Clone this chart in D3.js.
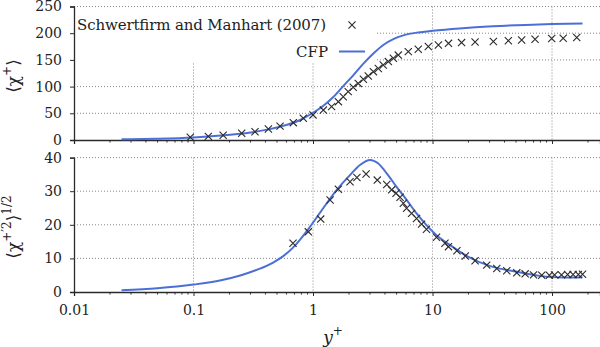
<!DOCTYPE html>
<html><head><meta charset="utf-8">
<script src="https://cdn.jsdelivr.net/npm/d3@7"></script>
<style>body{margin:0;background:#fff}svg{display:block}svg text{font-family:"DejaVu Serif","Liberation Serif",serif;fill:#222}</style>
</head><body><div id="chart"></div>
<script>
// ---- data ----
const xTicks = [0.01, 0.1, 1, 10, 100];
const xTickLabels = ["0.01", "0.1", "1", "10", "100"];
const topYTicks = [0, 50, 100, 150, 200, 250];
const botYTicks = [0, 10, 20, 30, 40];

// Schwertfirm and Manhart (2007): mean <chi+>
const refMeanY = [0.094,0.133,0.177,0.253,0.327,0.423,0.53,0.684,0.83,1.0,1.22,1.43,1.63,1.79,1.97,2.17,2.39,2.64,2.90,3.20,3.52,3.87,4.27,4.70,5.17,6.27,7.60,9.22,11.2,13.6,17.5,22.7,32.3,43.1,55.7,72.1,99.4,124,161];
const refMeanV = [5,6.8,9,12.5,15.6,20.6,26,32.5,40.6,47,56,62.5,71.8,81,90.6,98.7,106,113.7,120,128,134,140.6,146.8,153,159,165.5,170,175,178,181,182.4,183.5,184.5,186,187.4,188.7,190,190.6,191.8];
// CFP mean
const cfpMeanY = [0.025,0.05,0.1,0.17,0.3,0.53,0.78,1.0,1.22,1.47,1.79,2.17,2.64,3.2,3.87,4.7,5.7,7.6,10,16.8,32,60,100,180];
const cfpMeanV = [1.2,2.4,4.8,8.3,14,25,37.5,51,64,80,101,121,143,162,178,189,196,201.5,204.5,209,213,215.5,217,218];

// Schwertfirm and Manhart (2007): rms <chi+'2>^1/2
const refRmsY = [0.68,0.914,1.16,1.39,1.63,2.04,2.33,2.78,3.45,4.14,4.55,4.95,5.35,5.70,6.07,6.68,7.35,8.1,8.9,10.8,12.7,13.6,16.0,18.8,22.7,28.4,34.5,41.8,50.7,59.6,70,82,95,105,120,135,150,166,180];
const refRmsV = [14.5,17.9,21.7,27.4,30.6,32.8,34.1,35.1,33.3,32,30.4,29.4,28.2,26.4,24.9,23.4,21.9,20.2,18.7,16.3,14.5,13.5,12.3,10.7,9.3,8.0,7.0,6.3,5.7,5.4,5.1,5.0,5.0,5.1,5.1,5.2,5.2,5.2,5.3];
// CFP rms
const cfpRmsY = [0.025,0.05,0.1,0.17,0.25,0.35,0.46,0.56,0.68,0.78,0.94,1.22,1.58,2.04,2.47,3.0,3.5,4.14,5.0,6.07,7.35,8.9,10.8,14.1,19.4,30.4,50.7,78.6,124,180];
const cfpRmsV = [0.5,1.1,2.2,3.5,5.0,6.8,8.7,10.6,13.2,15.6,19.3,25,30.4,34.8,37.8,39.3,38.3,35.3,31.3,27.4,23.4,19.9,16.9,13.9,10.7,7.7,6.0,4.8,4.3,4.4];

// ---- drawing ----
const W = 600, H = 347;
const FONT = '"DejaVu Serif","Liberation Serif",serif';
const svg = d3.select("#chart").append("svg").attr("width", W).attr("height", H);
const x = d3.scaleLog().domain([0.01, 252]).range([74, 600]);
const yTop = d3.scaleLinear().domain([0, 250]).range([140, 6.5]);
const yBot = d3.scaleLinear().domain([0, 40]).range([292, 157.6]);
const BLUE = "#4b6fd6", INK = "#2a2a2a";
const minorTicks = [];
[0.01,0.1,1,10,100].forEach(d => { for (let k = 2; k <= 9; k++) if (d*k <= 252) minorTicks.push(d*k); });

function panel(y, yTicks, showXLabels, withLegendBox) {
  const g = svg.append("g");
  const [y0, y1] = y.range();
  g.selectAll(".hg").data(yTicks.filter(d => d > 0)).join("line")
    .attr("x1", 74).attr("x2", 600).attr("y1", d => y(d)).attr("y2", d => y(d))
    .attr("stroke", "#888").attr("stroke-width", 1).attr("stroke-dasharray", "1,2");
  g.selectAll(".vg").data(xTicks.filter(d => d > 0.01)).join("line")
    .attr("x1", d => x(d)).attr("x2", d => x(d)).attr("y1", y1).attr("y2", y0)
    .attr("stroke", "#888").attr("stroke-width", 1).attr("stroke-dasharray", "1,2");
  if (withLegendBox)
    g.append("rect").attr("x", 75).attr("y", 8).attr("width", 300).attr("height", 55).attr("fill", "#fff");
  const xa = g.append("g").attr("transform", `translate(0,${y0})`)
    .call(d3.axisBottom(x).tickValues(xTicks).tickSize(4).tickPadding(9)
      .tickFormat((d, i) => showXLabels ? xTickLabels[i] : ""));
  xa.attr("font-family", FONT);
  xa.select(".domain").attr("stroke", INK).attr("stroke-width", 1.3);
  xa.selectAll(".tick line").attr("stroke", INK);
  xa.selectAll("text").attr("font-size", 14).attr("fill", "#222");
  g.append("g").attr("transform", `translate(0,${y0})`)
    .selectAll("line").data(minorTicks).join("line")
    .attr("x1", d => x(d)).attr("x2", d => x(d)).attr("y1", 0).attr("y2", 2.5)
    .attr("stroke", INK);
  const ya = g.append("g").attr("transform", "translate(74,0)")
    .call(d3.axisLeft(y).tickValues(yTicks).tickSize(4).tickPadding(8));
  ya.attr("font-family", FONT);
  ya.select(".domain").attr("stroke", INK).attr("stroke-width", 1.3);
  ya.selectAll(".tick line").attr("stroke", INK);
  ya.selectAll("text").attr("font-size", 14).attr("fill", "#222");
  return g;
}

const gTop = panel(yTop, topYTicks, false, true);
const gBot = panel(yBot, botYTicks, true, false);

const crossPath = "M-3.6,-3.6L3.6,3.6M-3.6,3.6L3.6,-3.6";
function drawSeries(g, y, refY, refV, cfpY, cfpV) {
  const line = d3.line().x(d => x(d[0])).y(d => y(d[1])).curve(d3.curveMonotoneX);
  g.append("path").datum(d3.zip(cfpY, cfpV)).attr("d", line)
    .attr("fill", "none").attr("stroke", BLUE).attr("stroke-width", 2);
  g.selectAll(".cross").data(d3.zip(refY, refV)).join("path")
    .attr("transform", d => `translate(${x(d[0])},${y(d[1])})`)
    .attr("d", crossPath).attr("stroke", INK).attr("stroke-width", 1.1).attr("fill", "none");
}
drawSeries(gTop, yTop, refMeanY, refMeanV, cfpMeanY, cfpMeanV);
drawSeries(gBot, yBot, refRmsY, refRmsV, cfpRmsY, cfpRmsV);

// legend contents
svg.append("text").attr("x", 77).attr("y", 30).attr("font-size", 15).attr("textLength", 249).text("Schwertfirm and Manhart (2007)");
svg.append("path").attr("transform", "translate(352,25)").attr("d", crossPath).attr("stroke", INK).attr("stroke-width", 1.1).attr("fill", "none");
svg.append("text").attr("x", 328).attr("y", 57).attr("font-size", 15).attr("text-anchor", "end").text("CFP");
svg.append("line").attr("x1", 339).attr("x2", 365).attr("y1", 51.5).attr("y2", 51.5).attr("stroke", BLUE).attr("stroke-width", 2);

// axis titles
const t1 = svg.append("text").attr("transform", "translate(19,76) rotate(-90)").attr("text-anchor", "middle").attr("font-size", 17);
t1.append("tspan").text("⟨χ");
t1.append("tspan").attr("font-size", 12).attr("dy", -8).text("+");
t1.append("tspan").attr("dy", 8).text("⟩");

const t2 = svg.append("text").attr("transform", "translate(19,227) rotate(-90)").attr("text-anchor", "middle").attr("font-size", 17);
t2.append("tspan").text("⟨χ");
t2.append("tspan").attr("font-size", 12).attr("dy", -8).text("+′2");
t2.append("tspan").attr("dy", 8).text("⟩");
t2.append("tspan").attr("font-size", 12).attr("dy", -8).text("1/2");

const t3 = svg.append("text").attr("x", 333).attr("y", 343).attr("text-anchor", "middle").attr("font-size", 17);
t3.append("tspan").attr("font-style", "italic").text("y");
t3.append("tspan").attr("font-size", 12).attr("dy", -8).text("+");
</script>
</body></html>
